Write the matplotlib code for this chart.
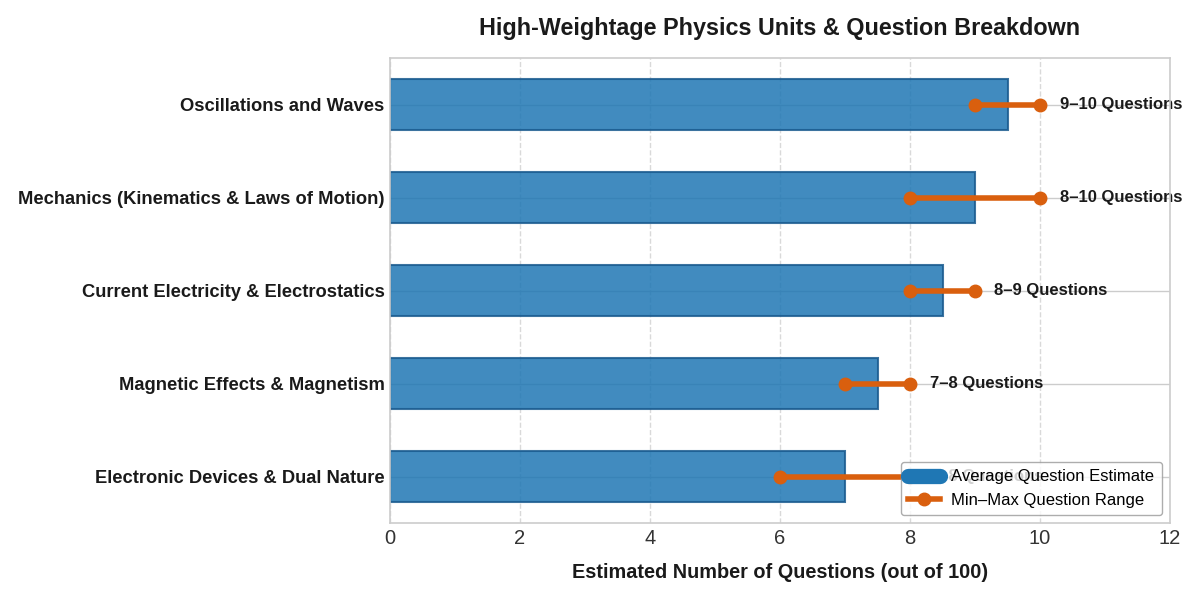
import matplotlib
matplotlib.use("Agg")
import matplotlib.pyplot as plt
from matplotlib.lines import Line2D
import numpy as np

units = ["Oscillations and Waves",
         "Mechanics (Kinematics & Laws of Motion)",
         "Current Electricity & Electrostatics",
         "Magnetic Effects & Magnetism",
         "Electronic Devices & Dual Nature"]
avg_questions = [9.5, 9.0, 8.5, 7.5, 7.0]
min_questions = [9, 8, 8, 7, 6]
max_questions = [10, 10, 9, 8, 8]
range_labels = ["9–10 Questions", "8–10 Questions", "8–9 Questions", "7–8 Questions", "6–8 Questions"]
x_ticks = [0, 2, 4, 6, 8, 10, 12]

plt.rcParams['font.family'] = ['Liberation Sans', 'DejaVu Sans']

fig = plt.figure(figsize=(12, 6), dpi=100)
ax = fig.add_axes([0.325, 0.128, 0.65, 0.775])

y = np.arange(len(units))[::-1]
bar_color = "#1f77b4"
rng_color = "#d95f0e"

ax.barh(y, avg_questions, height=0.55, color=bar_color, alpha=0.85,
        edgecolor="#1a5a8e", linewidth=1.5, zorder=2)
for yi, lo, hi, lab in zip(y, min_questions, max_questions, range_labels):
    ax.plot([lo, hi], [yi, yi], color=rng_color, lw=4, marker='o', markersize=9, zorder=3)
    ax.text(hi + 0.3, yi, lab, va='center', ha='left', fontsize=12, fontweight='bold', color="#1a1a1a", zorder=1)

ax.set_xlim(0, 12)
ax.set_ylim(-0.5, 4.5)
ax.set_xticks(x_ticks)
ax.set_xticklabels([str(t) for t in x_ticks], fontsize=14.5, color="#333333")
ax.set_yticks(y)
ax.set_yticklabels(units, fontsize=13.2, fontweight='bold', color="#1a1a1a")
ax.tick_params(axis='y', length=0, pad=4)
ax.tick_params(axis='x', length=0, pad=4)
ax.set_axisbelow(True)
ax.grid(axis='x', linestyle='--', color='#d9d9d9', lw=1)
ax.grid(axis='y', linestyle='-', color='#cccccc', lw=1)
for s in ax.spines.values():
    s.set_color('#cccccc')
    s.set_linewidth(1.2)

ax.set_xlabel("Estimated Number of Questions (out of 100)", fontsize=14.3, fontweight='bold', color="#1a1a1a", labelpad=11)
ax.set_title("High-Weightage Physics Units & Question Breakdown", fontsize=16.8, fontweight='bold', color="#1a1a1a", pad=17)

handles = [Line2D([0], [0], color=bar_color, lw=11, solid_capstyle='round'),
           Line2D([0], [0], color=rng_color, lw=4, marker='o', markersize=9)]
leg = ax.legend(handles, ["Average Question Estimate", "Min–Max Question Range"],
                loc='lower right', fontsize=12, frameon=True, fancybox=True,
                edgecolor='#999999', framealpha=0.8, labelspacing=0.5,
                handlelength=1.9, handletextpad=0.7, borderpad=0.45, borderaxespad=0,
                bbox_to_anchor=(0.9897, 0.0172))
leg.set_zorder(5)

fig.savefig("out.png", dpi=100)
